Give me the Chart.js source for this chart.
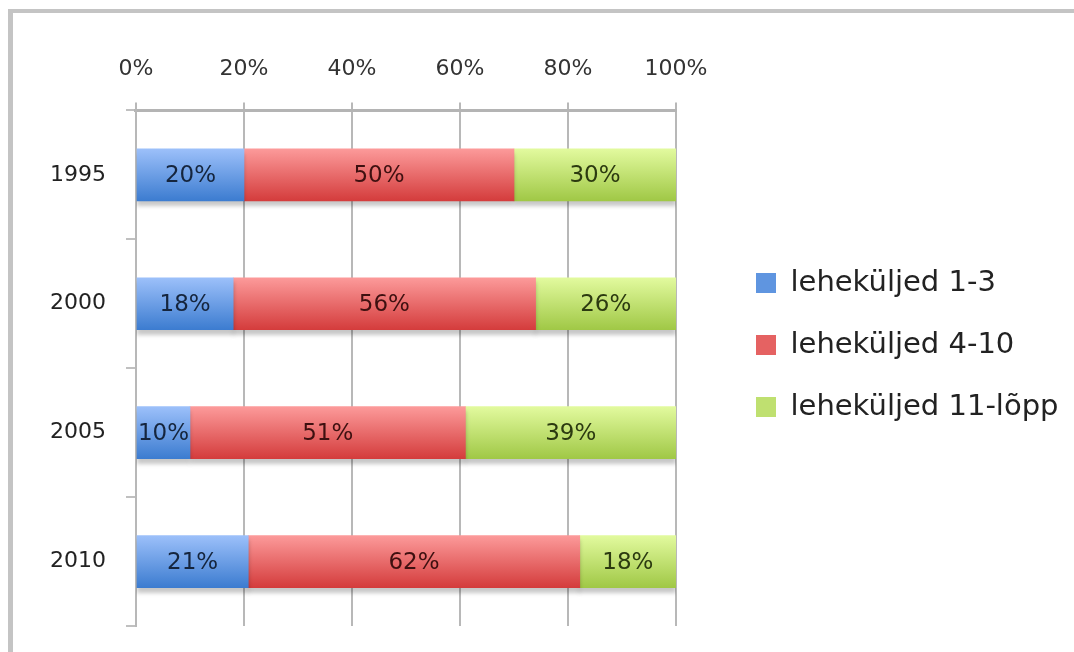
<!DOCTYPE html>
<html>
<head>
<meta charset="utf-8">
<script src="https://cdn.jsdelivr.net/npm/chart.js@4"></script>
<style>
  html, body { margin: 0; padding: 0; background: #fff; }
  #wrap { position: relative; width: 1074px; height: 652px; overflow: hidden; }
  #frame {
    position: absolute; left: 8px; top: 9px; right: -10px; bottom: -10px;
    border-top: 4px solid #c4c4c4; border-left: 5px solid #c4c4c4;
  }
  canvas { position: absolute; left: 0; top: 0; }
</style>
</head>
<body>
<div id="wrap">
  <div id="frame"></div>
  <canvas id="chart" width="1074" height="652"></canvas>
</div>
<script>
const years = ["1995", "2000", "2005", "2010"];
const seriesNames = ["leheküljed 1-3", "leheküljed 4-10", "leheküljed 11-lõpp"];
const pages1to3 = [20, 18, 10, 21];
const pages4to10 = [50, 56, 51, 62];
const pages11toEnd = [30, 26, 39, 18];
const xTicks = [0, 20, 40, 60, 80, 100];

const FONT = "'DejaVu Sans', sans-serif";
const BAR = 52;

// top / bottom of the vertical gradient, flat colour for the legend, label colour
const looks = [
  { top: "#9cc0fa", bottom: "#3c7cd0", flat: "#5f95e0", text: "#15253d" },
  { top: "#fc9a9a", bottom: "#d43c3c", flat: "#e56262", text: "#3e1010" },
  { top: "#e2fa9e", bottom: "#a0c846", flat: "#bfe070", text: "#2c3a10" },
];

const raw = [pages1to3, pages4to10, pages11toEnd];
// 100% stacked: each year is scaled to its own total
const totals = years.map((y, i) => raw.reduce((s, arr) => s + arr[i], 0));

function gradientFor(look) {
  return (c) => {
    const chart = c.chart;
    const yScale = chart.scales.y;
    if (!chart.chartArea || !yScale || c.dataIndex === undefined) return look.flat;
    const yc = yScale.getPixelForValue(c.dataIndex);
    const g = chart.ctx.createLinearGradient(0, yc - BAR / 2, 0, yc + BAR / 2);
    g.addColorStop(0, look.top);
    g.addColorStop(1, look.bottom);
    return g;
  };
}

const datasets = raw.map((arr, k) => ({
  label: seriesNames[k],
  data: arr.map((v, i) => (v / totals[i]) * 100),
  rawValues: arr,
  backgroundColor: gradientFor(looks[k]),
  borderWidth: 0,
  barThickness: BAR,
}));

const shadowPlugin = {
  id: "barShadow",
  beforeDatasetsDraw(chart) {
    const ctx = chart.ctx;
    ctx.save();
    ctx.shadowColor = "rgba(0,0,0,0.22)";
    ctx.shadowOffsetY = 5;
    ctx.shadowBlur = 4;
  },
  afterDatasetsDraw(chart) {
    chart.ctx.restore();
  },
};

const labelPlugin = {
  id: "barLabels",
  afterDatasetsDraw(chart) {
    const ctx = chart.ctx;
    ctx.save();
    ctx.font = "23px " + FONT;
    ctx.textAlign = "center";
    ctx.textBaseline = "middle";
    chart.data.datasets.forEach((ds, k) => {
      const meta = chart.getDatasetMeta(k);
      meta.data.forEach((bar, i) => {
        const mid = (bar.x + bar.base) / 2;
        ctx.fillStyle = looks[k].text;
        ctx.fillText(ds.rawValues[i] + "%", mid, bar.y + 1);
      });
    });
    ctx.restore();
  },
};

new Chart(document.getElementById("chart"), {
  type: "bar",
  data: { labels: years, datasets },
  options: {
    indexAxis: "y",
    responsive: false,
    animation: false,
    devicePixelRatio: 1,
    layout: { padding: { left: 30, right: 6, top: 36, bottom: 26 } },
    plugins: {
      tooltip: { enabled: false },
      legend: {
        position: "right",
        maxWidth: 345,
        title: { display: true, text: "", font: { size: 10 }, padding: 8 },
        labels: {
          font: { family: FONT, size: 29 },
          color: "#222",
          boxWidth: 20,
          boxHeight: 20,
          padding: 33,
          generateLabels(chart) {
            const items = Chart.defaults.plugins.legend.labels.generateLabels(chart);
            items.forEach((it, k) => {
              it.fillStyle = looks[k].flat;
              it.strokeStyle = looks[k].flat;
              it.lineWidth = 0;
            });
            return items;
          },
        },
      },
    },
    scales: {
      x: {
        position: "top",
        stacked: true,
        min: 0,
        max: 100,
        afterBuildTicks(axis) {
          axis.ticks = xTicks.map((v) => ({ value: v }));
        },
        ticks: {
          callback: (v) => v + "%",
          font: { family: FONT, size: 22 },
          color: "#333",
          padding: 20,
          maxRotation: 0,
        },
        grid: { color: "#b8b8b8", lineWidth: 2, tickLength: 8 },
        border: { color: "#b4b4b4", width: 3 },
      },
      y: {
        stacked: true,
        // labels sit mid-band, no extra room needed above/below the plot
        afterFit(scale) {
          scale.paddingTop = 0;
          scale.paddingBottom = 0;
        },
        ticks: {
          font: { family: FONT, size: 22 },
          color: "#222",
          padding: 20,
        },
        grid: {
          offset: true,
          drawOnChartArea: false,
          drawTicks: true,
          tickLength: 10,
          color: "#c0c0c0",
          lineWidth: 2,
        },
        border: { color: "#b8b8b8", width: 2 },
      },
      // empty spacer between plot and legend
      gap: {
        type: "category",
        position: "right",
        ticks: { display: false },
        grid: { display: false },
        border: { display: false },
        afterFit(scale) {
          scale.width = 47;
        },
      },
    },
  },
  plugins: [shadowPlugin, labelPlugin],
});
</script>
</body>
</html>
